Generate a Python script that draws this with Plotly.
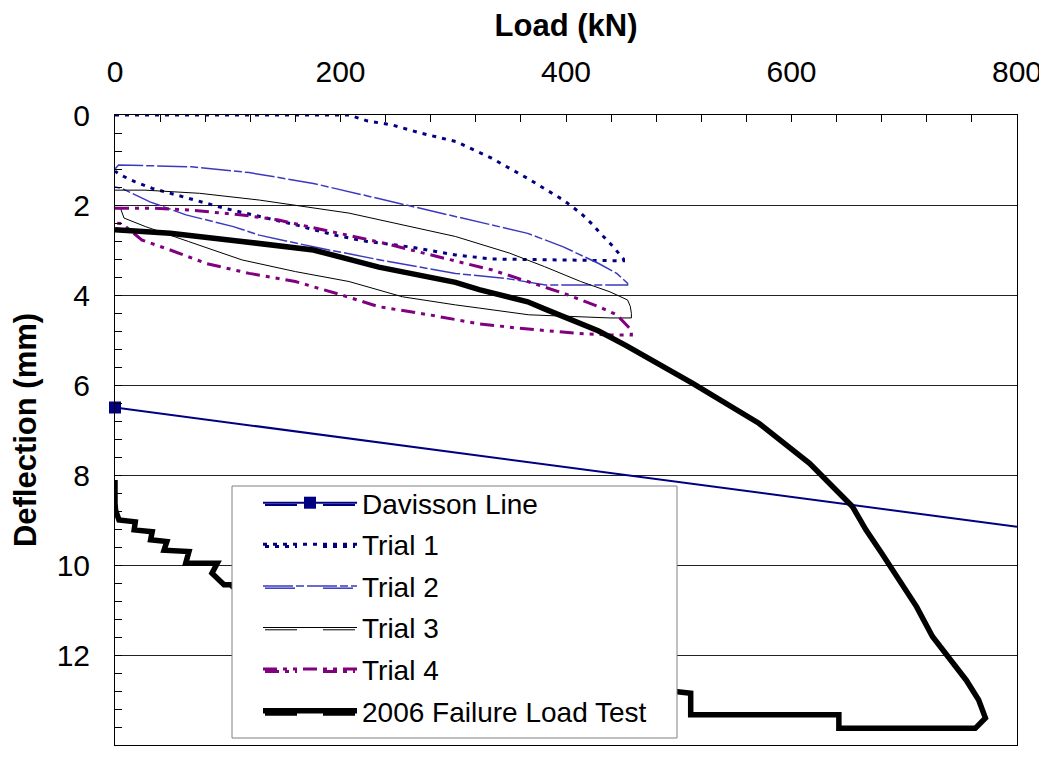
import plotly.graph_objects as go

# ---------------- data ----------------
davisson_load = [0, 800]
davisson_defl = [6.5, 9.15]

trial1_load = [0, 100, 207.5, 223.5, 245.7, 270.6, 302.4, 334, 366, 397.6, 413, 423, 429, 442, 451,
               451, 334, 302, 286.6, 261, 223.5, 195, 160, 128, 96.7, 65, 33, 17.5, 4.8, 0]
trial1_defl = [0, 0, 0, 0.13, 0.22, 0.40, 0.59, 0.96, 1.41, 1.89, 2.18, 2.42, 2.59, 2.93, 3.2,
               3.24, 3.2, 3.11, 3.04, 2.93, 2.81, 2.67, 2.44, 2.26, 2.07, 1.85, 1.63, 1.48, 1.33, 1.25]

trial2_load = [0, 3.2, 68, 119, 176, 239, 302, 366, 397.6, 429, 445, 454.6,
               454.6, 382, 346.5, 302, 239, 176, 128, 105, 63, 31, 5.9, 0]
trial2_defl = [1.2, 1.11, 1.15, 1.28, 1.52, 1.89, 2.26, 2.63, 2.93, 3.3, 3.52, 3.74,
               3.78, 3.78, 3.63, 3.52, 3.24, 2.93, 2.67, 2.48, 2.22, 1.93, 1.63, 1.6]

trial3_load = [0, 4.8, 26.6, 75, 128, 207.5, 255, 302, 350, 381, 413, 439, 454.6, 457, 458,
               458, 439, 411.5, 367, 323, 302, 255, 234, 207.5, 160, 112.6, 65, 27, 8, 5.4, 5.4]
trial3_defl = [1.67, 1.67, 1.67, 1.74, 1.89, 2.18, 2.44, 2.70, 3.07, 3.37, 3.70, 3.93, 4.11, 4.25, 4.41,
               4.51, 4.51, 4.48, 4.44, 4.29, 4.22, 4.04, 3.89, 3.70, 3.48, 3.22, 2.81, 2.48, 2.29, 2.11, 2.05]

trial4_load = [0, 6, 33, 65, 112.6, 144, 192, 239, 286.6, 334, 366, 397.6, 429, 445, 458,
               458, 441, 408.6, 358.8, 322.8, 278.5, 234, 201, 160, 119, 81, 49, 24, 6, 0]
trial4_defl = [2.07, 2.07, 2.07, 2.11, 2.22, 2.33, 2.59, 2.85, 3.15, 3.44, 3.70, 3.96, 4.26, 4.44, 4.78,
               4.89, 4.89, 4.85, 4.74, 4.64, 4.44, 4.26, 4.0, 3.70, 3.52, 3.30, 3.0, 2.78, 2.41, 2.4]

failure_load = [0, 49, 112.6, 176, 234, 302, 323, 366, 382, 394, 429, 453, 494, 512, 571, 616, 654,
                666, 680, 695, 711, 725, 740, 755, 766, 772,
                763, 642, 642, 510.6, 510.6, 497, 420, 420, 330, 330, 240, 240, 160, 160, 110,
                102.6, 96.7, 86, 90.7, 62.7, 65.6, 43.5, 46, 31.6, 33, 17, 18, 3.5, 0.5, 0, 0]
failure_defl = [2.55, 2.63, 2.81, 3.0, 3.38, 3.72, 3.88, 4.15, 4.32, 4.45, 4.8, 5.12, 5.7, 5.96, 6.85, 7.74, 8.7,
                9.22, 9.74, 10.33, 10.93, 11.59, 12.1, 12.56, 13.0, 13.4,
                13.63, 13.63, 13.33, 13.33, 12.85, 12.81, 12.7, 12.3, 12.2, 11.8, 11.6, 11.2, 11.0, 10.7, 10.6,
                10.44, 10.44, 10.18, 9.96, 9.96, 9.70, 9.67, 9.48, 9.44, 9.26, 9.22, 9.04, 9.0, 8.78, 8.62, 8.11]

x_ticks = [0, 200, 400, 600, 800]
y_ticks = [0, 2, 4, 6, 8, 10, 12, 14]

FONT = "Liberation Sans, Arial, sans-serif"
NAVY = "#000080"
BLUE2 = "#3A3AC0"
PURPLE = "#800080"

styles = {
    "Davisson Line": dict(color=NAVY, width=2, dash="solid"),
    "Trial 1": dict(color=NAVY, width=3, dash="4px,6px"),
    "Trial 2": dict(color=BLUE2, width=1.5, dash="30px,3px,8px,3px"),
    "Trial 3": dict(color="#000000", width=1, dash="solid"),
    "Trial 4": dict(color=PURPLE, width=3, dash="14px,6px,4px,6px,4px,6px"),
    "2006 Failure Load Test": dict(color="#000000", width=5.5, dash="solid"),
}

fig = go.Figure()
fig.add_trace(go.Scatter(x=davisson_load, y=davisson_defl, mode="lines+markers", name="Davisson Line",
                         line=styles["Davisson Line"], cliponaxis=False,
                         marker=dict(symbol="square", size=12, color=[NAVY, "rgba(0,0,0,0)"]),
                         legendgroup="a"))
series = [("Trial 1", trial1_load, trial1_defl), ("Trial 2", trial2_load, trial2_defl),
          ("Trial 3", trial3_load, trial3_defl), ("Trial 4", trial4_load, trial4_defl),
          ("2006 Failure Load Test", failure_load, failure_defl)]
for i, (nm, xs, ys) in enumerate(series):
    fig.add_trace(go.Scatter(x=xs, y=ys, mode="lines", name=nm, line=styles[nm], legendgroup="g%d" % i))

# The page body adds an 8px offset; figure coords = reference coords - OFF
OFF = 8
W, H = 1047 - OFF, 759 - OFF
# plot area in reference pixels
L, R, T, B = 115, 1017, 115, 745
def px(xp):
    return (xp - L) / (R - L)
def py(yp):
    return (B - yp) / (B - T)

# legend frame (drawn as a shape so the samples can be lengthened)
shapes = [dict(type="rect", xref="paper", yref="paper", x0=px(232), x1=px(677), y0=py(738), y1=py(486),
               fillcolor="white", line=dict(color="#808080", width=1), layer="above")]
row_y = [505 + 41.6 * i for i in range(6)]
names = list(styles.keys())
for nm, ry in zip(names, row_y):
    st = styles[nm]
    for a, b in [(265, 297), (323, 355)]:
        shapes.append(dict(type="line", xref="paper", yref="paper", x0=px(a), x1=px(b), y0=py(ry), y1=py(ry),
                           line=dict(color=st["color"], width=st["width"], dash=st["dash"]), layer="above"))

fig.update_layout(
    width=W, height=H,
    margin=dict(l=L - OFF, r=W - (R - OFF), t=T - OFF, b=H - (B - OFF), pad=0),
    paper_bgcolor="white", plot_bgcolor="white",
    font=dict(family=FONT, color="black", size=30),
    shapes=shapes,
    showlegend=True,
    legend=dict(x=px(258), y=py(478), xanchor="left", yanchor="top", bgcolor="rgba(0,0,0,0)",
                borderwidth=0, font=dict(family=FONT, size=28, color="black"),
                itemwidth=94, tracegroupgap=2.2, traceorder="grouped"),
    xaxis=dict(range=[0, 800], side="top", tickvals=x_ticks, ticks="inside", ticklen=7, tickcolor="black",
               minor=dict(dtick=40, ticks="inside", ticklen=7, tickcolor="black", showgrid=False),
               showline=True, mirror=True, linecolor="black", linewidth=1, showgrid=False, zeroline=False,
               tickfont=dict(size=30), ticklabelstandoff=20,
               title=dict(text="<b>Load (kN)</b>", font=dict(size=31), standoff=18), automargin=False),
    yaxis=dict(range=[14, 0], tickvals=y_ticks, ticks="inside", ticklen=7, tickcolor="black",
               minor=dict(dtick=0.4, ticks="inside", ticklen=7, tickcolor="black", showgrid=False),
               showline=True, mirror=True, linecolor="black", linewidth=1,
               showgrid=True, gridcolor="#222222", gridwidth=1, zeroline=False,
               tickfont=dict(size=30), ticklabelstandoff=18,
               title=dict(text="<b>Deflection (mm)</b>", font=dict(size=31), standoff=14), automargin=False),
)

fig.write_html("out.html")
